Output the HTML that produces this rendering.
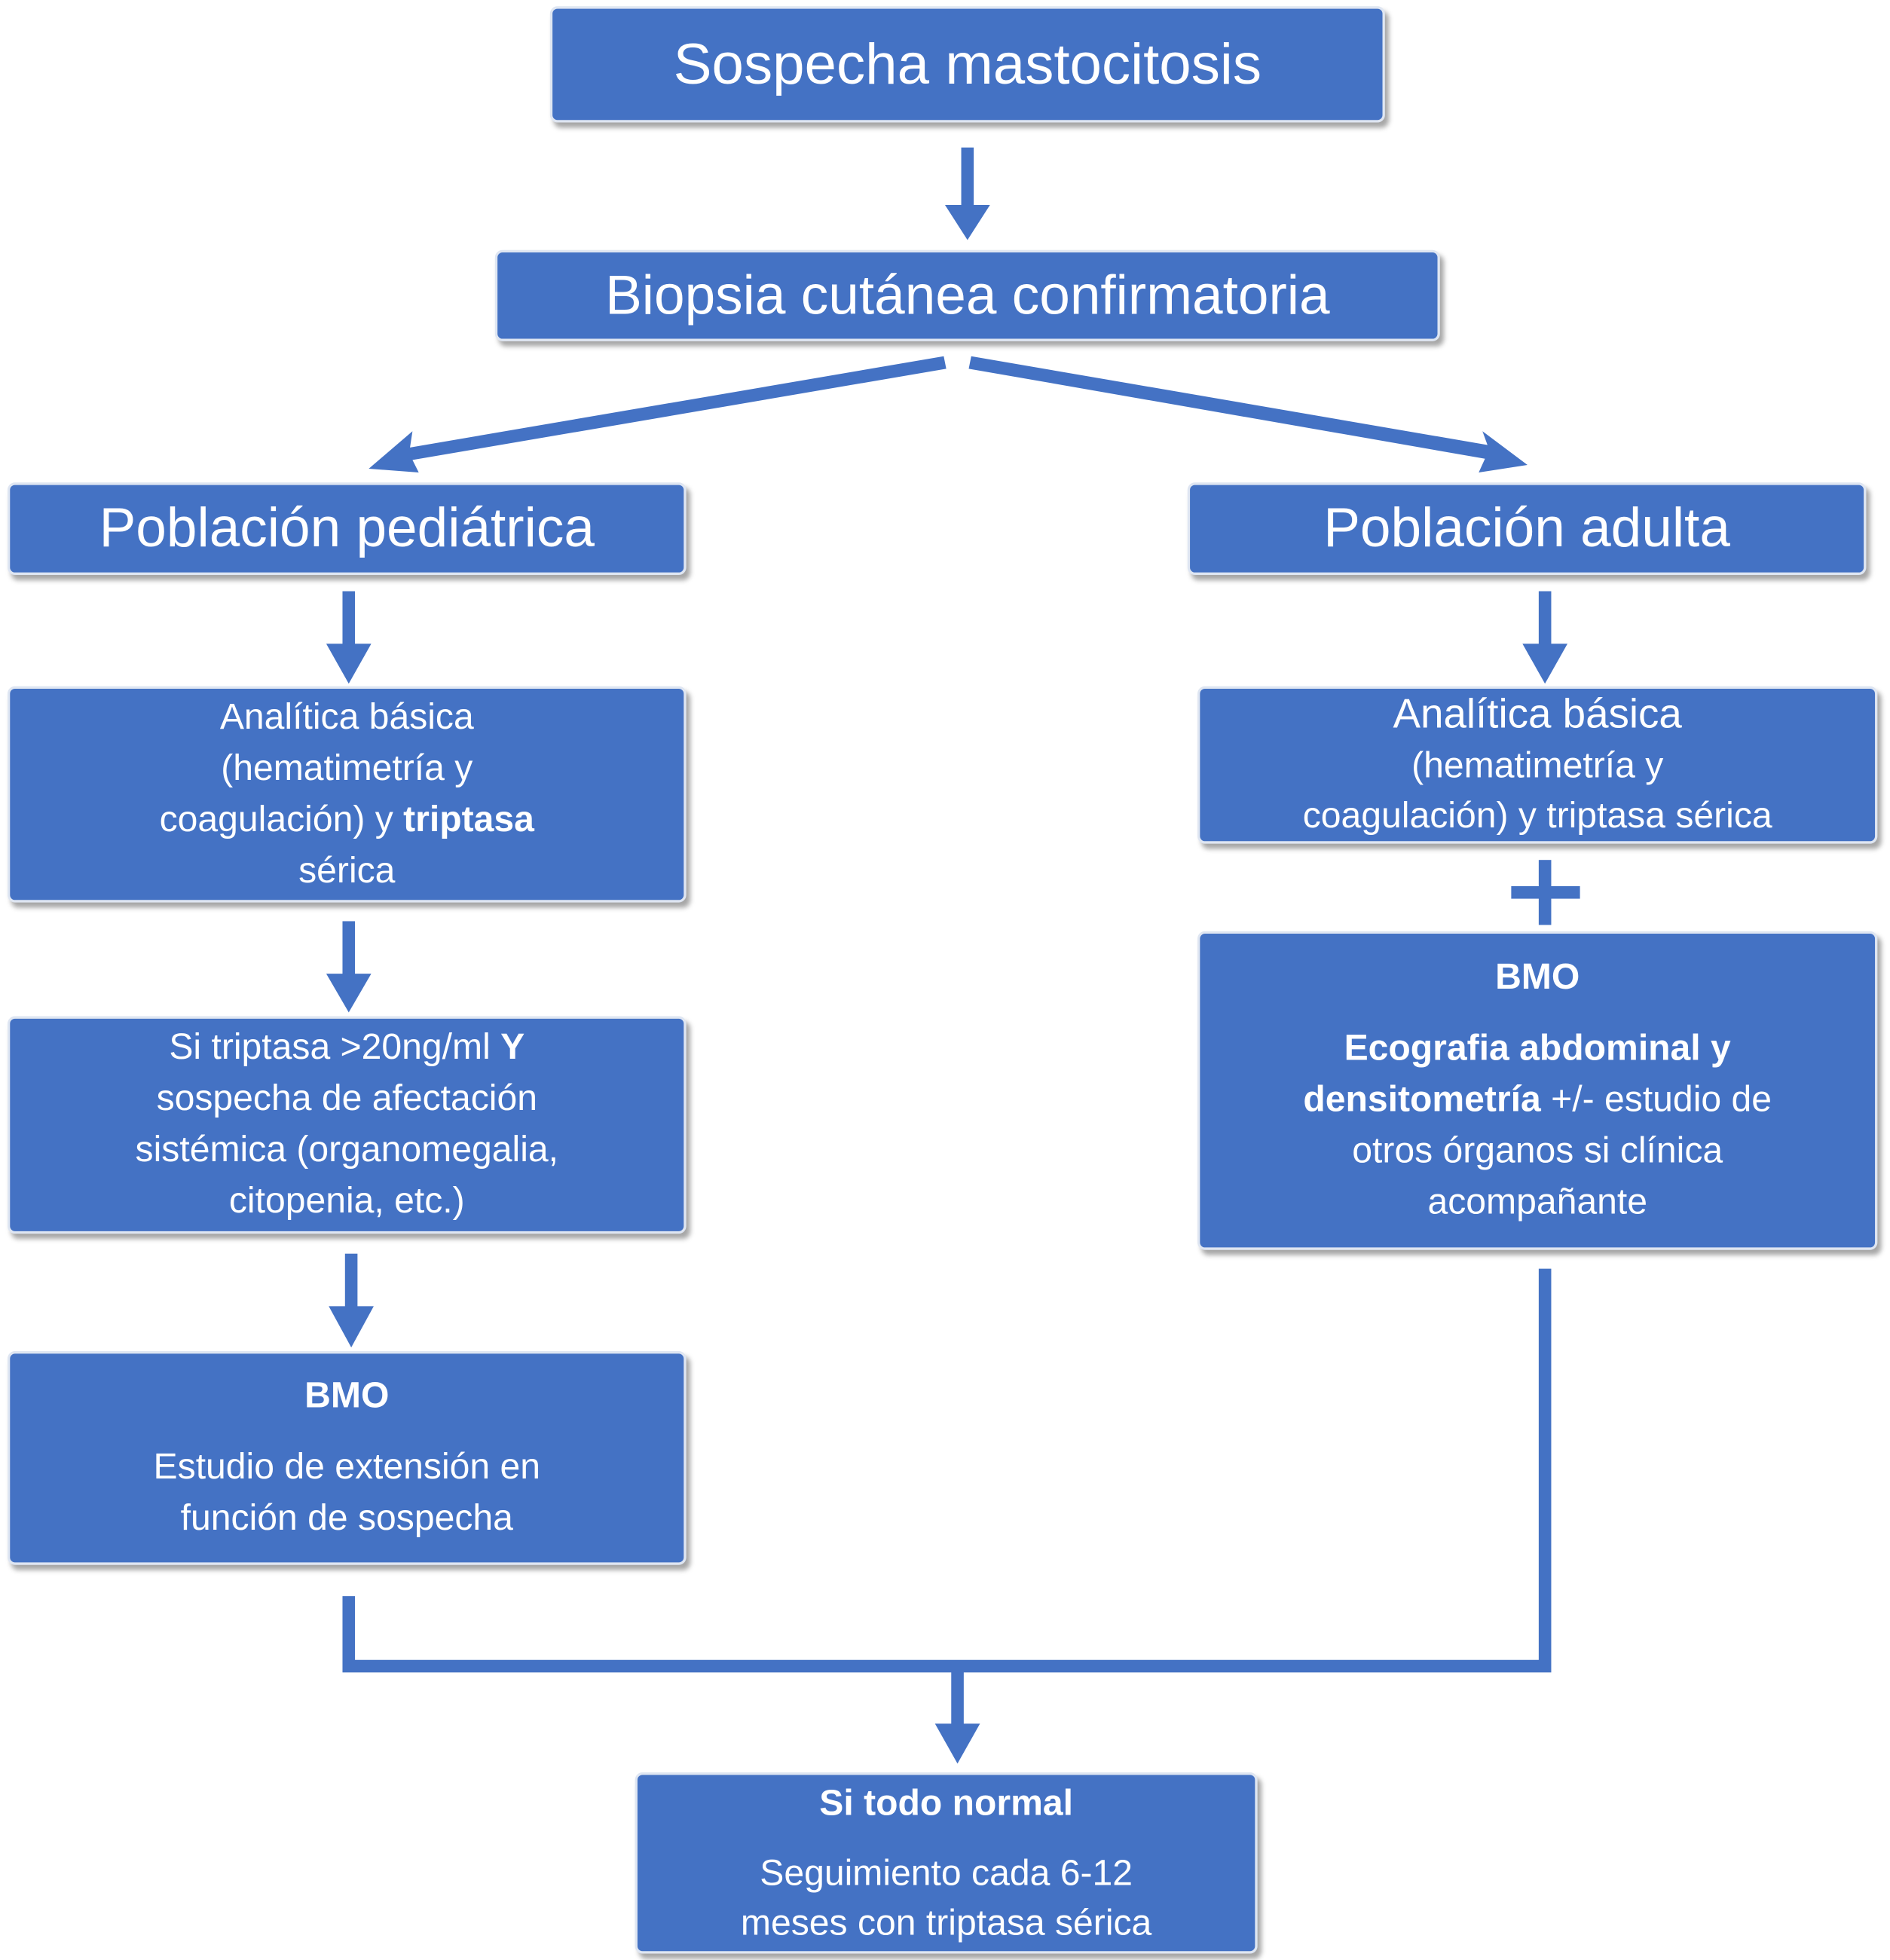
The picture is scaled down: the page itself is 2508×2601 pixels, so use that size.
<!DOCTYPE html>
<html><head><meta charset="utf-8"><style>
html,body{margin:0;padding:0;background:#fff;}
body{width:2508px;height:2601px;overflow:hidden;position:relative;}
#s{position:absolute;left:0;top:0;width:1512px;height:1568px;transform:scale(1.6587);transform-origin:0 0;}
.b{position:absolute;background:#4472c4;color:#fff;border:2px solid #dfe6f2;border-radius:6px;box-shadow:3px 4px 4px rgba(0,0,0,.35);display:flex;align-items:center;justify-content:center;text-align:center;font-family:"Liberation Sans",sans-serif;box-sizing:border-box;line-height:1.3;}
.b>div{display:block;width:100%;}
.t{font-size:29px;}
b{font-weight:bold;}
.sp{height:16px;}
svg{position:absolute;left:0;top:0;}
</style></head><body><div id="s">
<svg width="1512" height="1568">
<g fill="#4472c4" stroke="none">
<rect x="769" y="118" width="10" height="48"/><polygon points="756,164 792,164 774,192"/>
<rect x="274" y="473" width="10" height="44"/><polygon points="261,515 297,515 279,547"/>
<rect x="274" y="737" width="10" height="44"/><polygon points="261,779 297,779 279,810"/>
<rect x="276" y="1003" width="10" height="44"/><polygon points="263,1045 299,1045 281,1078"/>
<rect x="1231" y="473" width="10" height="44"/><polygon points="1218,515 1254,515 1236,547"/>
<rect x="1231" y="688" width="10" height="52"/><rect x="1209" y="709" width="55" height="10"/>
<rect x="761" y="1333" width="10" height="48"/><polygon points="748,1379 784,1379 766,1411"/>
<polygon points="295,375 330,345 328,358 755,285 757,295 330,368 335,378"/>
<polygon points="1222,372 1186,345 1190,356 777,285 775,295 1188,367 1183,378"/>
</g>
<path d="M279,1277 V1333 H1236 V1015" fill="none" stroke="#4472c4" stroke-width="10"/>
</svg>
<div class="b" style="left:440px;top:5px;width:668px;height:93px;font-size:46px;"><div>Sospecha mastocitosis</div></div>
<div class="b" style="left:396px;top:200px;width:756px;height:73px;font-size:44px;"><div>Biopsia cutánea confirmatoria</div></div>
<div class="b" style="left:6px;top:386px;width:543px;height:74px;font-size:44px;"><div>Población pediátrica</div></div>
<div class="b" style="left:950px;top:386px;width:543px;height:74px;font-size:44px;"><div>Población adulta</div></div>
<div class="b t" style="left:6px;top:549px;width:543px;height:173px;line-height:41px;"><div>Analítica básica<br>(hematimetría y<br>coagulación) y <b>triptasa</b><br>sérica</div></div>
<div class="b t" style="left:6px;top:813px;width:543px;height:174px;line-height:41px;"><div>Si triptasa &gt;20ng/ml <b>Y</b><br>sospecha de afectación<br>sistémica (organomegalia,<br>citopenia, etc.)</div></div>
<div class="b t" style="left:6px;top:1081px;width:543px;height:171px;line-height:41px;"><div><b>BMO</b><div class="sp"></div>Estudio de extensión en<br>función de sospecha</div></div>
<div class="b t" style="left:958px;top:549px;width:544px;height:126px;line-height:40px;"><div><span style="font-size:33px">Analítica básica</span><br>(hematimetría y<br>coagulación) y triptasa sérica</div></div>
<div class="b t" style="left:958px;top:745px;width:544px;height:255px;line-height:41px;"><div><b>BMO</b><div class="sp"></div><b>Ecografia abdominal y</b><br><b>densitometría</b> +/- estudio de<br>otros órganos si clínica<br>acompañante</div></div>
<div class="b t" style="left:508px;top:1418px;width:498px;height:145px;line-height:40px;"><div><b>Si todo normal</b><div class="sp"></div>Seguimiento cada 6-12<br>meses con triptasa sérica</div></div>
</div></body></html>
